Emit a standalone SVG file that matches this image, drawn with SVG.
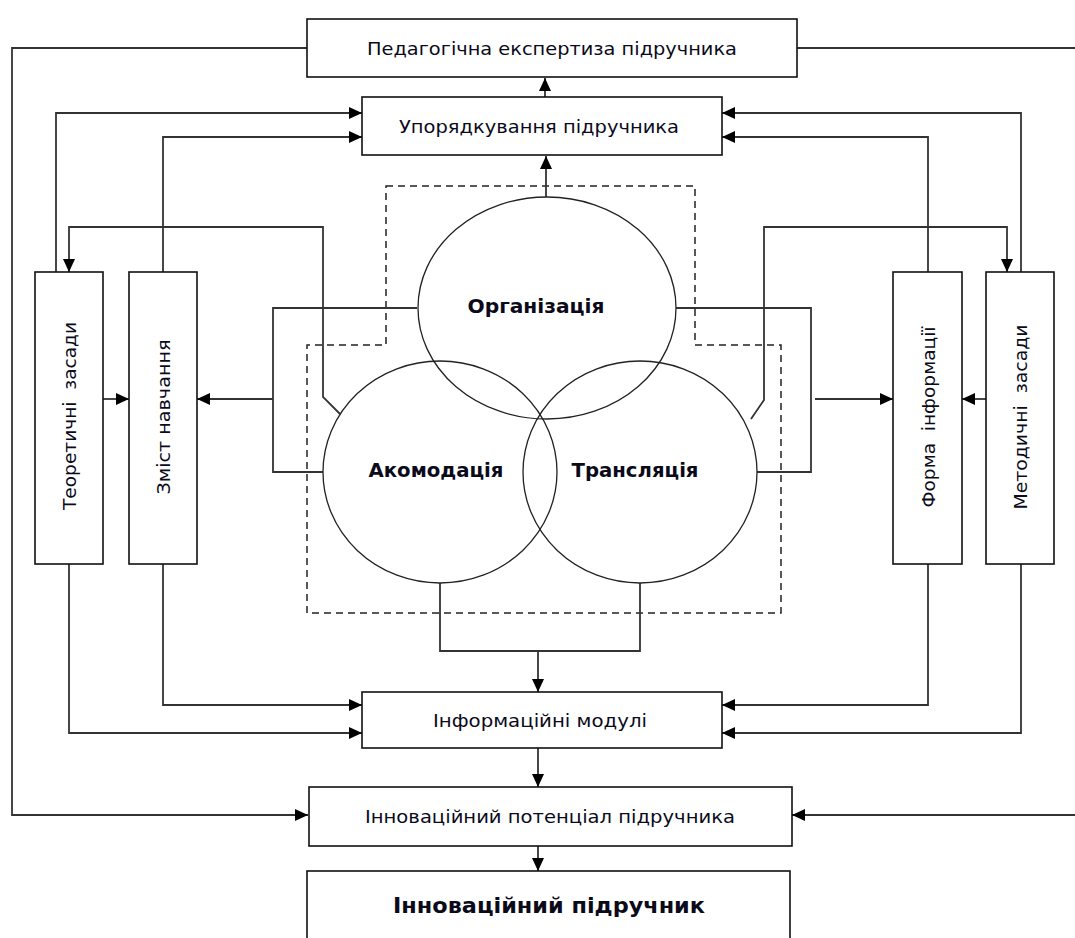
<svg xmlns="http://www.w3.org/2000/svg" width="1075" height="938" viewBox="0 0 1075 938">
  <style>
    .box { fill: #ffffff; stroke: #111; stroke-width: 1.6; }
    .ring { fill: none; stroke: #222; stroke-width: 1.3; }
    .wire { fill: none; stroke: #333; stroke-width: 1.8; }
    .dash { fill: none; stroke: #222; stroke-width: 1.5; stroke-dasharray: 7 5; }
    .lbl { font-family: "DejaVu Sans", Verdana, sans-serif; font-size: 18.5px; fill: #0a0a1a; text-anchor: middle; }
    .big { font-family: "DejaVu Sans", Verdana, sans-serif; font-size: 19px; font-weight: bold; fill: #0a0a1a; text-anchor: middle; }
    .top { font-family: "DejaVu Sans", Verdana, sans-serif; font-size: 21px; font-weight: bold; fill: #0a0a1a; text-anchor: middle; }
  </style>
  <defs>
    <marker id="tip" markerUnits="userSpaceOnUse" markerWidth="14" markerHeight="12" refX="13" refY="6" orient="auto">
      <path d="M0,0 L13,6 L0,12 Z" fill="#000"/>
    </marker>
  </defs>
  <rect width="1075" height="938" fill="#ffffff"/>

  <!-- dashed outline around the three circles -->
  <path class="dash" d="M386,186 H695 V345 H781 V613 H307 V345 H386 Z"/>

  <g id="connectors">
    <!-- outer feedback loop -->
    <path class="wire" d="M307,48 H12 V815 H308" marker-end="url(#tip)"/>
    <path class="wire" d="M797,48 H1075"/>
    <path class="wire" d="M1075,815 H792" marker-end="url(#tip)"/>
    <!-- vertical chain -->
    <path class="wire" d="M545,97 V78" marker-end="url(#tip)"/>
    <path class="wire" d="M546,197 V156" marker-end="url(#tip)"/>
    <!-- side columns up to ordering box -->
    <path class="wire" d="M56,272 V113 H362" marker-end="url(#tip)"/>
    <path class="wire" d="M163,272 V137 H362" marker-end="url(#tip)"/>
    <path class="wire" d="M928,272 V137 H722" marker-end="url(#tip)"/>
    <path class="wire" d="M1021,272 V113 H722" marker-end="url(#tip)"/>
    <!-- circles feeding the foundations -->
    <path class="wire" d="M340,414 L323,397 V227 H69 V272" marker-end="url(#tip)"/>
    <path class="wire" d="M751,419 L764,400 V227 H1007 V272" marker-end="url(#tip)"/>
    <!-- horizontal links at mid height -->
    <path class="wire" d="M103,399 H129" marker-end="url(#tip)"/>
    <path class="wire" d="M986,399 H962" marker-end="url(#tip)"/>
    <path class="wire" d="M417,308 H273 V472 H323"/>
    <path class="wire" d="M273,399 H197" marker-end="url(#tip)"/>
    <path class="wire" d="M676,308 H811 V472 H757"/>
    <path class="wire" d="M815,399 H893" marker-end="url(#tip)"/>
    <!-- circles down to modules -->
    <path class="wire" d="M440,583 V651 H640 V583"/>
    <path class="wire" d="M538,651 V692" marker-end="url(#tip)"/>
    <!-- side columns down to modules -->
    <path class="wire" d="M163,564 V705 H362" marker-end="url(#tip)"/>
    <path class="wire" d="M69,564 V733 H362" marker-end="url(#tip)"/>
    <path class="wire" d="M928,564 V705 H722" marker-end="url(#tip)"/>
    <path class="wire" d="M1021,564 V733 H722" marker-end="url(#tip)"/>
    <!-- lower chain -->
    <path class="wire" d="M538,748 V787" marker-end="url(#tip)"/>
    <path class="wire" d="M538,846 V871" marker-end="url(#tip)"/>
  </g>

  <g id="expertise">
    <rect class="box" x="307" y="19" width="490" height="58"/>
    <text class="lbl" x="552" y="55" textLength="370" lengthAdjust="spacingAndGlyphs">Педагогічна експертиза підручника</text>
  </g>
  <g id="ordering">
    <rect class="box" x="362" y="97" width="360" height="58"/>
    <text class="lbl" x="539" y="133" textLength="280" lengthAdjust="spacingAndGlyphs">Упорядкування підручника</text>
  </g>
  <g id="theory">
    <rect class="box" x="35" y="272" width="68" height="292"/>
    <text class="lbl" transform="translate(69,416) rotate(-90)" y="7" textLength="188" lengthAdjust="spacingAndGlyphs" xml:space="preserve">Теоретичні  засади</text>
  </g>
  <g id="content">
    <rect class="box" x="129" y="272" width="68" height="292"/>
    <text class="lbl" transform="translate(163,417) rotate(-90)" y="7" textLength="155" lengthAdjust="spacingAndGlyphs">Зміст навчання</text>
  </g>
  <g id="form">
    <rect class="box" x="893" y="272" width="69" height="292"/>
    <text class="lbl" transform="translate(928,417) rotate(-90)" y="7" textLength="181" lengthAdjust="spacingAndGlyphs" xml:space="preserve">Форма  інформації</text>
  </g>
  <g id="method">
    <rect class="box" x="986" y="272" width="68" height="292"/>
    <text class="lbl" transform="translate(1020,417) rotate(-90)" y="7" textLength="185" lengthAdjust="spacingAndGlyphs" xml:space="preserve">Методичні  засади</text>
  </g>
  <g id="organisation">
    <ellipse class="ring" cx="547" cy="308" rx="129" ry="111"/>
    <text class="big" x="536" y="313" textLength="137" lengthAdjust="spacingAndGlyphs">Організація</text>
  </g>
  <g id="accommodation">
    <ellipse class="ring" cx="440" cy="472" rx="117" ry="111"/>
    <text class="big" x="436" y="477" textLength="135" lengthAdjust="spacingAndGlyphs">Акомодація</text>
  </g>
  <g id="translation">
    <ellipse class="ring" cx="640" cy="472" rx="117" ry="111"/>
    <text class="big" x="635" y="477" textLength="127" lengthAdjust="spacingAndGlyphs">Трансляція</text>
  </g>
  <g id="modules">
    <rect class="box" x="362" y="692" width="360" height="56"/>
    <text class="lbl" x="540" y="727" textLength="214" lengthAdjust="spacingAndGlyphs">Інформаційні модулі</text>
  </g>
  <g id="potential">
    <rect class="box" x="309" y="787" width="483" height="59"/>
    <text class="lbl" x="550" y="823" textLength="370" lengthAdjust="spacingAndGlyphs">Інноваційний потенціал підручника</text>
  </g>
  <g id="textbook">
    <rect class="box" x="307" y="871" width="483" height="80"/>
    <text class="top" x="549" y="913" textLength="312" lengthAdjust="spacingAndGlyphs">Інноваційний підручник</text>
  </g>
</svg>
